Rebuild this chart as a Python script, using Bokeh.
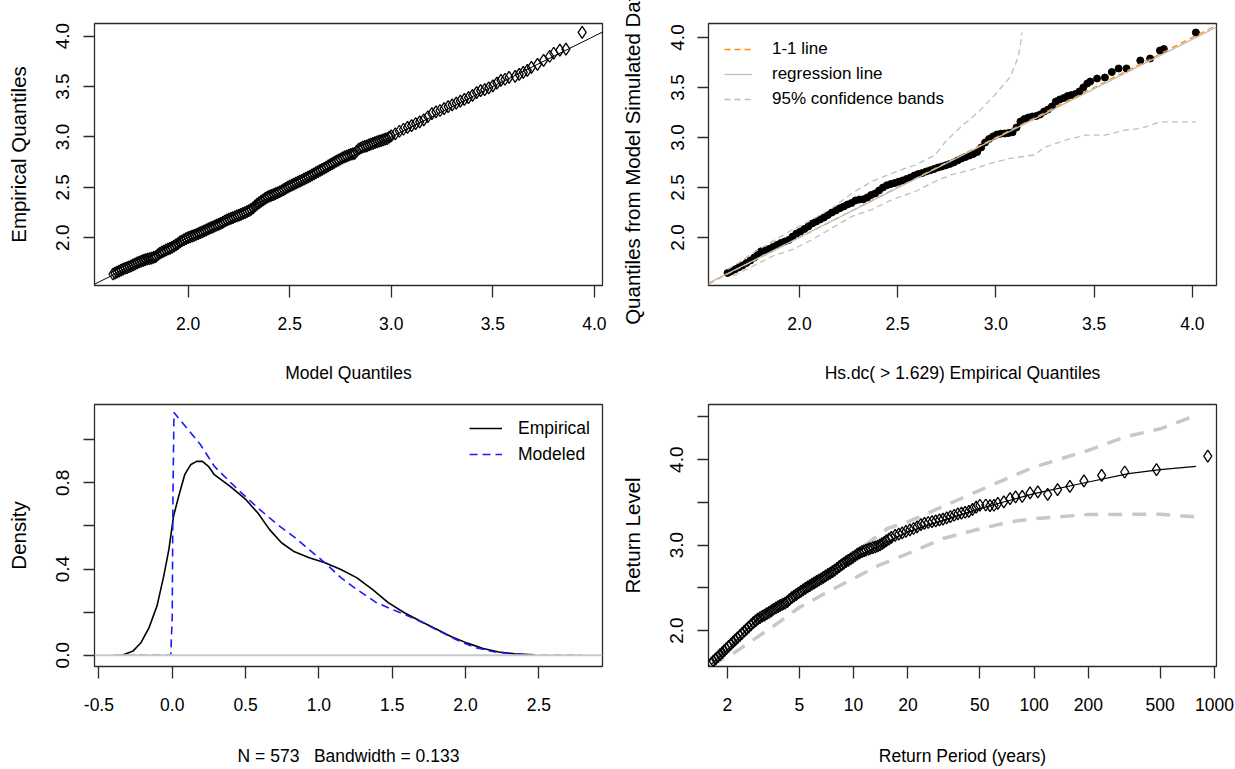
from bokeh.plotting import figure
from bokeh.layouts import column, row
from bokeh.models import (Range1d, FixedTicker, NumeralTickFormatter, Slope, Span,
                          Legend, LegendItem)
from bokeh.embed import file_html
from bokeh.resources import INLINE

# ---------------- data ----------------
# Panel 1: QQ plot, model quantiles (x) vs empirical quantiles (y)
qq_model = [1.63, 1.64, 1.65, 1.66, 1.67, 1.68, 1.69, 1.70, 1.71, 1.72, 1.73, 1.74, 1.75, 1.76,
            1.77, 1.78, 1.79, 1.80, 1.81, 1.82, 1.83, 1.84, 1.85, 1.86, 1.87, 1.88, 1.89, 1.90,
            1.91, 1.92, 1.93, 1.94, 1.95, 1.96, 1.97, 1.98, 1.99, 2.00, 2.01, 2.02, 2.03, 2.04,
            2.05, 2.06, 2.07, 2.08, 2.09, 2.10, 2.11, 2.12, 2.13, 2.14, 2.15, 2.16, 2.17, 2.18,
            2.19, 2.20, 2.21, 2.22, 2.23, 2.24, 2.25, 2.26, 2.27, 2.28, 2.29, 2.30, 2.31, 2.32,
            2.33, 2.34, 2.35, 2.36, 2.37, 2.38, 2.39, 2.40, 2.41, 2.42, 2.43, 2.44, 2.45, 2.46,
            2.47, 2.48, 2.49, 2.50, 2.51, 2.52, 2.53, 2.54, 2.55, 2.56, 2.57, 2.58, 2.59, 2.60,
            2.61, 2.62, 2.63, 2.64, 2.65, 2.66, 2.67, 2.68, 2.69, 2.70, 2.71, 2.72, 2.73, 2.74,
            2.75, 2.76, 2.77, 2.78, 2.79, 2.80, 2.81, 2.82, 2.83, 2.84, 2.85, 2.86, 2.87, 2.88,
            2.89, 2.90, 2.91, 2.92, 2.93, 2.94, 2.95, 2.96, 2.97, 2.98, 2.99, 3.00, 3.02, 3.04,
            3.06, 3.08, 3.10, 3.12, 3.14, 3.16, 3.18, 3.20, 3.22, 3.24, 3.26, 3.28, 3.30, 3.32,
            3.34, 3.36, 3.38, 3.40, 3.42, 3.44, 3.46, 3.48, 3.50, 3.52, 3.54, 3.56, 3.58, 3.61,
            3.63, 3.65, 3.67, 3.69, 3.72, 3.75, 3.78, 3.80, 3.83, 3.86, 3.94]
qq_empirical = [1.640, 1.648, 1.658, 1.668, 1.678, 1.688, 1.697, 1.704, 1.712, 1.721, 1.730,
                1.740, 1.750, 1.759, 1.768, 1.776, 1.782, 1.789, 1.793, 1.798, 1.804, 1.812,
                1.830, 1.846, 1.856, 1.866, 1.876, 1.886, 1.895, 1.905, 1.916, 1.928, 1.942,
                1.958, 1.970, 1.981, 1.991, 2.000, 2.008, 2.016, 2.024, 2.032, 2.041, 2.050,
                2.059, 2.068, 2.078, 2.088, 2.097, 2.106, 2.115, 2.124, 2.133, 2.142, 2.153,
                2.164, 2.174, 2.184, 2.192, 2.200, 2.208, 2.216, 2.224, 2.232, 2.241, 2.250,
                2.259, 2.268, 2.281, 2.296, 2.315, 2.334, 2.349, 2.362, 2.376, 2.390, 2.402,
                2.412, 2.420, 2.428, 2.437, 2.446, 2.456, 2.466, 2.478, 2.490, 2.501, 2.512,
                2.522, 2.532, 2.542, 2.552, 2.561, 2.570, 2.581, 2.592, 2.602, 2.612, 2.623,
                2.634, 2.645, 2.656, 2.667, 2.678, 2.689, 2.700, 2.712, 2.724, 2.736, 2.748,
                2.759, 2.770, 2.781, 2.792, 2.801, 2.810, 2.818, 2.826, 2.831, 2.836, 2.858,
                2.880, 2.890, 2.900, 2.906, 2.912, 2.920, 2.928, 2.936, 2.944, 2.951, 2.958,
                2.964, 2.970, 2.977, 2.984, 2.997, 3.010, 3.030, 3.056, 3.076, 3.094, 3.112,
                3.132, 3.150, 3.170, 3.200, 3.230, 3.248, 3.262, 3.280, 3.300, 3.318, 3.336,
                3.356, 3.372, 3.390, 3.412, 3.440, 3.460, 3.470, 3.486, 3.506, 3.534, 3.560,
                3.572, 3.590, 3.600, 3.620, 3.640, 3.660, 3.690, 3.720, 3.760, 3.800, 3.830,
                3.860, 3.870, 4.036]
qq_line_slope = 1.0
qq_line_intercept = 0.0

# Panel 2: empirical quantiles (x) vs quantiles from model-simulated data (y)
sim_emp = [1.634, 1.650, 1.670, 1.690, 1.710, 1.730, 1.750, 1.770, 1.790, 1.805, 1.825, 1.845,
           1.865, 1.885, 1.905, 1.925, 1.945, 1.965, 1.985, 2.005, 2.025, 2.045, 2.065, 2.085,
           2.105, 2.125, 2.145, 2.165, 2.185, 2.205, 2.225, 2.245, 2.265, 2.285, 2.305, 2.325,
           2.345, 2.365, 2.385, 2.405, 2.425, 2.445, 2.465, 2.485, 2.505, 2.525, 2.545, 2.565,
           2.585, 2.605, 2.625, 2.645, 2.665, 2.685, 2.705, 2.725, 2.745, 2.765, 2.785, 2.805,
           2.825, 2.845, 2.865, 2.885, 2.905, 2.925, 2.945, 2.965, 2.985, 3.005, 3.025, 3.045,
           3.065, 3.085, 3.105, 3.125, 3.145, 3.165, 3.185, 3.205, 3.225, 3.245, 3.265, 3.285,
           3.305, 3.325, 3.345, 3.365, 3.385, 3.405, 3.425, 3.445, 3.465, 3.480, 3.515, 3.555,
           3.590, 3.625, 3.665, 3.735, 3.785, 3.835, 3.855, 4.018]
sim_model = [1.645, 1.660, 1.680, 1.700, 1.720, 1.745, 1.770, 1.800, 1.840, 1.862, 1.870, 1.885,
             1.905, 1.925, 1.945, 1.960, 1.975, 2.010, 2.040, 2.060, 2.085, 2.110, 2.140, 2.160,
             2.180, 2.200, 2.225, 2.250, 2.270, 2.292, 2.310, 2.330, 2.345, 2.370, 2.380, 2.382,
             2.400, 2.425, 2.440, 2.470, 2.500, 2.522, 2.535, 2.545, 2.558, 2.570, 2.585, 2.600,
             2.620, 2.635, 2.645, 2.660, 2.672, 2.685, 2.700, 2.710, 2.722, 2.735, 2.750, 2.770,
             2.790, 2.805, 2.820, 2.835, 2.855, 2.900, 2.950, 2.985, 3.010, 3.030, 3.038, 3.040,
             3.045, 3.052, 3.100, 3.160, 3.185, 3.200, 3.210, 3.215, 3.230, 3.260, 3.280, 3.310,
             3.360, 3.380, 3.395, 3.415, 3.425, 3.435, 3.460, 3.500, 3.540, 3.560, 3.590, 3.600,
             3.655, 3.690, 3.690, 3.770, 3.790, 3.870, 3.885, 4.050]
band_up_x = [1.634, 1.700, 1.765, 1.865, 1.966, 2.066, 2.167, 2.268, 2.368, 2.469, 2.590, 2.690,
             2.750, 2.831, 2.911, 2.992, 3.072, 3.113, 3.125, 3.133]
band_up_y = [1.680, 1.760, 1.848, 1.964, 2.080, 2.180, 2.295, 2.444, 2.560, 2.642, 2.725, 2.825,
             2.974, 3.122, 3.255, 3.420, 3.603, 3.800, 3.930, 4.050]
band_lo_x = [1.664, 1.765, 1.865, 1.966, 2.066, 2.167, 2.268, 2.368, 2.469, 2.590, 2.670, 2.771,
             2.871, 2.972, 3.072, 3.193, 3.254, 3.354, 3.455, 3.555, 3.656, 3.736, 3.837, 4.018]
band_lo_y = [1.616, 1.715, 1.815, 1.881, 1.980, 2.096, 2.212, 2.278, 2.377, 2.460, 2.543, 2.626,
             2.675, 2.742, 2.791, 2.825, 2.907, 2.974, 3.023, 3.023, 3.073, 3.090, 3.156, 3.156]
one_one_slope = 1.0
one_one_intercept = 0.0
reg_slope = 0.99
reg_intercept = 0.022

# Panel 3: density of excesses
dens_emp_x = [-0.350, -0.333, -0.266, -0.212, -0.158, -0.104, -0.058, -0.023, 0.009, 0.044, 0.085,
              0.125, 0.166, 0.206, 0.247, 0.287, 0.395, 0.503, 0.584, 0.664, 0.745, 0.826, 0.934,
              1.042, 1.150, 1.257, 1.365, 1.473, 1.580, 1.690, 1.796, 1.904, 2.012, 2.120, 2.228,
              2.335, 2.470]
dens_emp_y = [0.000, 0.002, 0.020, 0.059, 0.128, 0.228, 0.367, 0.490, 0.645, 0.738, 0.838,
              0.884, 0.900, 0.900, 0.877, 0.838, 0.784, 0.722, 0.660, 0.583, 0.522, 0.483, 0.452,
              0.429, 0.398, 0.360, 0.306, 0.244, 0.198, 0.159, 0.123, 0.086, 0.056, 0.031, 0.015,
              0.006, 0.002]
dens_mod_x = [-0.400, -0.010, 0.000, 0.005, 0.012, 0.193, 0.287, 0.449, 0.584, 0.718, 0.826,
              0.934, 1.042, 1.150, 1.257, 1.392, 1.527, 1.662, 1.796, 1.931, 2.066, 2.200, 2.335,
              2.470, 2.790]
dens_mod_y = [0.000, 0.000, 0.180, 0.750, 1.127, 0.977, 0.877, 0.768, 0.684, 0.606, 0.552,
              0.490, 0.429, 0.360, 0.306, 0.244, 0.205, 0.167, 0.120, 0.074, 0.035, 0.015, 0.005,
              0.000, 0.000]

# Panel 4: return level plot
rp_points = [1.63, 1.67, 1.72, 1.77, 1.82, 1.87, 1.92, 1.97, 2.03, 2.09, 2.15, 2.21, 2.27, 2.34,
             2.41, 2.48, 2.55, 2.62, 2.70, 2.78, 2.86, 2.94, 3.03, 3.12, 3.21, 3.30, 3.40, 3.50,
             3.60, 3.71, 3.82, 3.93, 4.05, 4.17, 4.29, 4.41, 4.54, 4.67, 4.81, 4.95, 5.10, 5.25,
             5.40, 5.56, 5.72, 5.89, 6.06, 6.24, 6.42, 6.61, 6.80, 7.00, 7.21, 7.42, 7.64, 7.86,
             8.09, 8.33, 8.57, 8.82, 9.08, 9.35, 9.62, 9.90, 10.2, 10.5, 10.8, 11.1, 11.4, 11.7,
             12.1, 12.4, 12.8, 13.2, 13.6, 14.0, 14.4, 14.8, 15.2, 15.7, 16.2, 17.0, 17.8, 18.6,
             19.5, 20.5, 21.5, 22.5, 23.6, 24.7, 25.9, 27.2, 28.5, 29.9, 31.3, 32.8, 34.4, 36.1,
             37.8, 39.6, 41.5, 43.5, 45.6, 47.8, 50.1, 54, 57, 60, 63, 68, 73.6, 79, 86, 95, 105,
             119, 135, 158, 189, 237, 318, 477, 918]
rl_points = [1.620, 1.642, 1.668, 1.694, 1.718, 1.742, 1.766, 1.789, 1.816, 1.842, 1.867, 1.891,
             1.915, 1.942, 1.968, 1.994, 2.018, 2.042, 2.068, 2.093, 2.115, 2.134, 2.153, 2.168,
             2.182, 2.198, 2.214, 2.232, 2.250, 2.266, 2.280, 2.296, 2.310, 2.322, 2.340, 2.362,
             2.386, 2.404, 2.422, 2.440, 2.458, 2.476, 2.494, 2.511, 2.527, 2.543, 2.559, 2.575,
             2.591, 2.607, 2.623, 2.640, 2.657, 2.673, 2.690, 2.708, 2.728, 2.748, 2.768, 2.788,
             2.806, 2.823, 2.840, 2.858, 2.876, 2.894, 2.910, 2.924, 2.934, 2.943, 2.953, 2.961,
             2.970, 2.980, 2.990, 3.003, 3.018, 3.034, 3.052, 3.070, 3.092, 3.115, 3.130, 3.145,
             3.160, 3.180, 3.195, 3.215, 3.240, 3.255, 3.265, 3.275, 3.285, 3.295, 3.305, 3.320,
             3.335, 3.350, 3.365, 3.375, 3.385, 3.395, 3.420, 3.445, 3.467, 3.470, 3.462, 3.467,
             3.490, 3.506, 3.545, 3.564, 3.572, 3.611, 3.623, 3.595, 3.650, 3.689, 3.751, 3.817,
             3.856, 3.883, 4.043]
rp_model = [1.637, 2, 2.77, 3.57, 5, 6.89, 10, 14.66, 20, 31.3, 50, 73.6, 100, 200, 334, 500, 789]
rl_model = [1.611, 1.774, 2.086, 2.280, 2.475, 2.650, 2.844, 3.020, 3.156, 3.290, 3.428, 3.525,
            3.603, 3.739, 3.837, 3.883, 3.922]
rp_ci_up = [1.637, 2.16, 3.57, 5, 10, 15.4, 20, 50, 100, 200, 318, 500, 789]
rl_ci_up = [1.650, 1.852, 2.241, 2.455, 2.903, 3.195, 3.272, 3.642, 3.914, 4.109, 4.265, 4.362, 4.518]
rp_ci_lo = [1.637, 2.16, 3.57, 5, 7, 10, 13.9, 20, 31.3, 50, 73.6, 100, 200, 500, 789]
rl_ci_lo = [1.600, 1.735, 2.047, 2.270, 2.440, 2.610, 2.767, 2.900, 3.078, 3.190, 3.272, 3.310,
            3.358, 3.362, 3.330]

# axis extents and tick values
qq_xlim = (1.539, 4.04)
qq_ylim = (1.526, 4.125)
sim_xlim = (1.537, 4.123)
sim_ylim = (1.52, 4.14)
dens_xlim = (-0.53, 2.934)
dens_ylim = (-0.0525, 1.164)
rp_xlim = (1.57, 1026)
rl_ylim = (1.58, 4.646)
q_ticks = [2.0, 2.5, 3.0, 3.5, 4.0]
dens_x_ticks = [-0.5, 0.0, 0.5, 1.0, 1.5, 2.0, 2.5]
dens_y_labeled = [0.0, 0.4, 0.8]
dens_y_unlabeled = [0.2, 0.6, 1.0]
rp_ticks = [2, 5, 10, 20, 50, 100, 200, 500, 1000]
rl_y_labeled = [2.0, 3.0, 4.0]
rl_y_unlabeled = [2.5, 3.5, 4.5]

# ---------------- styling helpers ----------------
FONT = "Liberation Sans"
BOX = "#2b2b2b"


def make(xr, yr, left, right, top, bottom, xtype="linear"):
    return figure(frame_width=508, frame_height=262,
                  x_range=Range1d(*xr), y_range=Range1d(*yr), x_axis_type=xtype,
                  min_border_left=left, min_border_right=right,
                  min_border_top=top, min_border_bottom=bottom,
                  output_backend="svg", toolbar_location=None)


def style(p, xticks, yticks, xminor, yminor, xfmt, yfmt, xlabel, ylabel, x_std, xl_std):
    p.xgrid.visible = False
    p.ygrid.visible = False
    p.outline_line_color = BOX
    p.outline_line_width = 1.3
    p.outline_line_alpha = 1.0
    p.background_fill_color = "white"
    p.border_fill_color = "white"
    xa = p.xaxis[0]
    ya = p.yaxis[0]
    xa.ticker = FixedTicker(ticks=xticks, minor_ticks=xminor)
    ya.ticker = FixedTicker(ticks=yticks, minor_ticks=yminor)
    xa.formatter = NumeralTickFormatter(format=xfmt)
    ya.formatter = NumeralTickFormatter(format=yfmt)
    for ax in (xa, ya):
        ax.axis_line_color = None
        ax.major_tick_line_color = BOX
        ax.minor_tick_line_color = BOX
        ax.major_tick_line_width = 1.3
        ax.minor_tick_line_width = 1.3
        ax.major_tick_in = 0
        ax.minor_tick_in = 0
        ax.major_label_text_font = FONT
        ax.major_label_text_color = "black"
        ax.axis_label_text_font = FONT
        ax.axis_label_text_font_style = "normal"
        ax.axis_label_text_color = "black"
    xa.major_tick_out = 12
    xa.minor_tick_out = 12
    ya.major_tick_out = 11
    ya.minor_tick_out = 11
    xa.major_label_text_font_size = "17.5px"
    xa.major_label_standoff = x_std
    xa.axis_label = xlabel
    xa.axis_label_text_font_size = "17.5px"
    xa.axis_label_standoff = xl_std
    ya.major_label_orientation = "vertical"
    ya.major_label_text_font_size = "19px"
    ya.major_label_standoff = 14
    ya.axis_label = ylabel
    ya.axis_label_text_font_size = "20.5px"
    ya.axis_label_standoff = 24


# ---------------- panel 1 ----------------
p1 = make(qq_xlim, qq_ylim, 94, 15, 23, 101)
style(p1, q_ticks, q_ticks, [], [], "0.0", "0.0", "Model Quantiles", "Empirical Quantiles", 19, 30)
p1.scatter(qq_model, qq_empirical, marker="diamond", size=12, fill_color=None,
           line_color="black", line_width=1.3)
p1.add_layout(Slope(gradient=qq_line_slope, y_intercept=qq_line_intercept,
                    line_color="black", line_width=1))

# ---------------- panel 2 ----------------
p2 = make(sim_xlim, sim_ylim, 91, 19, 23, 101)
style(p2, q_ticks, q_ticks, [], [], "0.0", "0.0",
      "Hs.dc( > 1.629) Empirical Quantiles", "Quantiles from Model Simulated Data", 19, 30)
p2.scatter(sim_emp, sim_model, marker="circle", size=7, fill_color="black", line_color="black")
line_x = list(sim_xlim)
r_one = p2.line(line_x, [one_one_intercept + one_one_slope * v for v in line_x],
                line_color="darkorange", line_width=1.3, line_dash="6 4")
r_reg = p2.line(line_x, [reg_intercept + reg_slope * v for v in line_x],
                line_color="#bebebe", line_width=1.3)
r_band = p2.line(band_up_x, band_up_y, line_color="#bebebe", line_width=1.3, line_dash="6 4")
p2.line(band_lo_x, band_lo_y, line_color="#bebebe", line_width=1.3, line_dash="6 4")
leg2 = Legend(items=[LegendItem(label="1-1 line", renderers=[r_one]),
                     LegendItem(label="regression line", renderers=[r_reg]),
                     LegendItem(label="95% confidence bands", renderers=[r_band])],
              location="top_left", border_line_color=None, background_fill_alpha=0,
              label_text_font=FONT, label_text_font_size="17px", label_text_color="black",
              glyph_width=28, glyph_height=20, label_height=20, label_standoff=20,
              spacing=5, padding=0, margin=16)
p2.add_layout(leg2)

# ---------------- panel 3 ----------------
p3 = make(dens_xlim, dens_ylim, 94, 15, 18, 103)
style(p3, dens_x_ticks, dens_y_labeled, [], dens_y_unlabeled, "0.0", "0.0",
      "N = 573\u00a0\u00a0\u00a0Bandwidth = 0.133", "Density", 19, 32)
p3.add_layout(Span(location=0, dimension="width", line_color="#c8c8c8", line_width=2))
r_emp = p3.line(dens_emp_x, dens_emp_y, line_color="black", line_width=1.6)
r_mod = p3.line(dens_mod_x, dens_mod_y, line_color="#1a1aff", line_width=1.6, line_dash="8 5")
leg3 = Legend(items=[LegendItem(label="Empirical", renderers=[r_emp]),
                     LegendItem(label="Modeled", renderers=[r_mod])],
              location="top_right", border_line_color=None, background_fill_alpha=0,
              label_text_font=FONT, label_text_font_size="17.5px", label_text_color="black",
              glyph_width=33, glyph_height=24, label_height=24, label_standoff=16,
              spacing=2, padding=0, margin=12)
p3.add_layout(leg3)

# ---------------- panel 4 ----------------
p4 = make(rp_xlim, rl_ylim, 91, 19, 18, 103, "log")
style(p4, rp_ticks, rl_y_labeled, [], rl_y_unlabeled, "0", "0.0",
      "Return Period (years)", "Return Level", 19, 32)
p4.line(rp_ci_up, rl_ci_up, line_color="#c8c8c8", line_width=3.5, line_dash="14 10")
p4.line(rp_ci_lo, rl_ci_lo, line_color="#c8c8c8", line_width=3.5, line_dash="14 10")
p4.line(rp_model, rl_model, line_color="black", line_width=1.2)
p4.scatter(rp_points, rl_points, marker="diamond", size=12, fill_color=None,
           line_color="black", line_width=1.3)

layout = column(row(p1, p2), row(p3, p4))
open("out.html", "w").write(file_html(layout, INLINE))
